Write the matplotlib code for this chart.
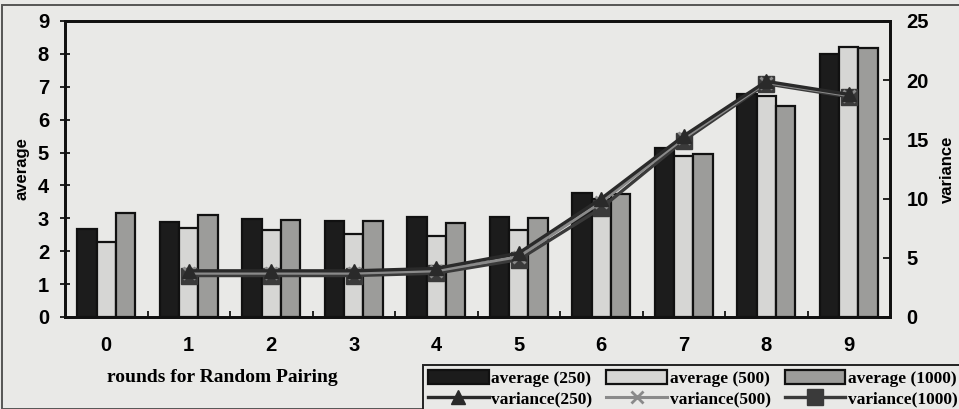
import numpy as np
import matplotlib
matplotlib.use("Agg")
import matplotlib.pyplot as plt
from matplotlib.patches import Rectangle
from matplotlib.font_manager import FontProperties

# Rounds of random pairing and the measured statistics
rounds = ["0", "1", "2", "3", "4", "5", "6", "7", "8", "9"]
avg_250 = [2.68, 2.90, 2.99, 2.91, 3.03, 3.03, 3.77, 5.14, 6.77, 7.99]
avg_500 = [2.29, 2.72, 2.65, 2.53, 2.47, 2.65, 3.59, 4.89, 6.72, 8.21]
avg_1000 = [3.17, 3.11, 2.95, 2.93, 2.85, 3.00, 3.74, 4.96, 6.41, 8.17]
var_250 = [np.nan, 3.9, 3.9, 3.9, 4.1, 5.4, 10.0, 15.3, 19.9, 18.8]
var_500 = [np.nan, 3.7, 3.7, 3.7, 3.9, 5.1, 9.7, 15.1, 19.8, 18.7]
var_1000 = [np.nan, 3.5, 3.5, 3.5, 3.7, 4.85, 9.2, 14.9, 19.7, 18.6]

paper = "#e9e9e7"
W, H = 959, 409
fig = plt.figure(figsize=(W / 100, H / 100), dpi=100, facecolor=paper)
ax = fig.add_axes([65 / W, 1 - 317 / H, (890 - 65) / W, (317 - 21) / H])
ax.set_facecolor(paper)

x = np.arange(len(rounds))
bw = 0.235
bar_kw = dict(width=bw, edgecolor="#111111", linewidth=1.6, zorder=2)
b1 = ax.bar(x - bw, avg_250, color="#1c1c1c", **bar_kw)
b2 = ax.bar(x, avg_500, color="#d6d6d4", **bar_kw)
b3 = ax.bar(x + bw, avg_1000, color="#9c9c9a", **bar_kw)

ax.set_xlim(-0.5, len(rounds) - 0.5)
ax.set_ylim(0, 9)
ax.set_yticks(range(0, 10))
ax.set_xticks(x)
ax.set_xticklabels(rounds)
ax.set_xticks(np.arange(0.5, len(rounds) - 0.5, 1.0), minor=True)
ax.tick_params(axis="x", which="major", length=0, pad=14)
ax.tick_params(axis="x", which="minor", direction="in", length=4, width=1.2)
ax.tick_params(axis="y", direction="inout", length=7, width=1.2, pad=8)
tick_font = FontProperties(family="Liberation Sans", weight="bold", size=14.5)
for lab in ax.get_xticklabels() + ax.get_yticklabels():
    lab.set_fontproperties(tick_font)
for s in ax.spines.values():
    s.set_linewidth(2.0)
    s.set_color("#111111")
ax.set_ylabel("average", fontfamily="Liberation Sans", fontweight="bold",
              fontsize=12, labelpad=6)

ax2 = ax.twinx()
ax2.set_ylim(0, 25)
ax2.set_yticks(range(0, 26, 5))
ax2.tick_params(axis="y", direction="in", length=5, width=1.2, pad=12)
for lab in ax2.get_yticklabels():
    lab.set_fontproperties(tick_font)
for s in ax2.spines.values():
    s.set_linewidth(2.0)
    s.set_color("#111111")
ax2.set_ylabel("variance", fontfamily="Liberation Sans", fontweight="bold",
               fontsize=12, labelpad=8)

l1, = ax2.plot(x, var_250, color="#2a2a2a", lw=2.4, marker="^", ms=10,
               zorder=5)
l2, = ax2.plot(x, var_500, color="#8a8a8a", lw=2.2, marker="x", ms=9,
               mew=2, zorder=4)
l3, = ax2.plot(x, var_1000, color="#3a3a3a", lw=2.4, marker="s", ms=12,
               zorder=3)

fig.text(222 / W, 1 - 378 / H, "rounds for Random Pairing",
         fontfamily="Liberation Serif", fontweight="bold", fontsize=14,
         ha="center", va="center")

# outer frame of the figure panel
fig.patches.append(Rectangle((2 / W, 0.5 / H), 1.0, 1 - 5.5 / H,
                             transform=fig.transFigure, fill=False,
                             edgecolor="#555555", linewidth=1.4))

handles = [b1, l1, b2, l2, b3, l3]
labels = ["average (250)", "variance(250)", "average (500)", "variance(500)",
          "average (1000)", "variance(1000)"]
leg = fig.legend(handles, labels, ncol=3, loc="lower right",
                 bbox_to_anchor=(1.004, -0.01),
                 prop=dict(family="Liberation Serif", weight="bold", size=12.5),
                 handlelength=3.5, handleheight=0.9, handletextpad=0.15,
                 columnspacing=0.8, labelspacing=0.2, borderpad=0.3,
                 fancybox=False, framealpha=1.0, borderaxespad=0)
leg.get_frame().set_facecolor(paper)
leg.get_frame().set_edgecolor("#222222")
leg.get_frame().set_linewidth(1.4)

fig.savefig("out.png", dpi=100, facecolor=paper)
